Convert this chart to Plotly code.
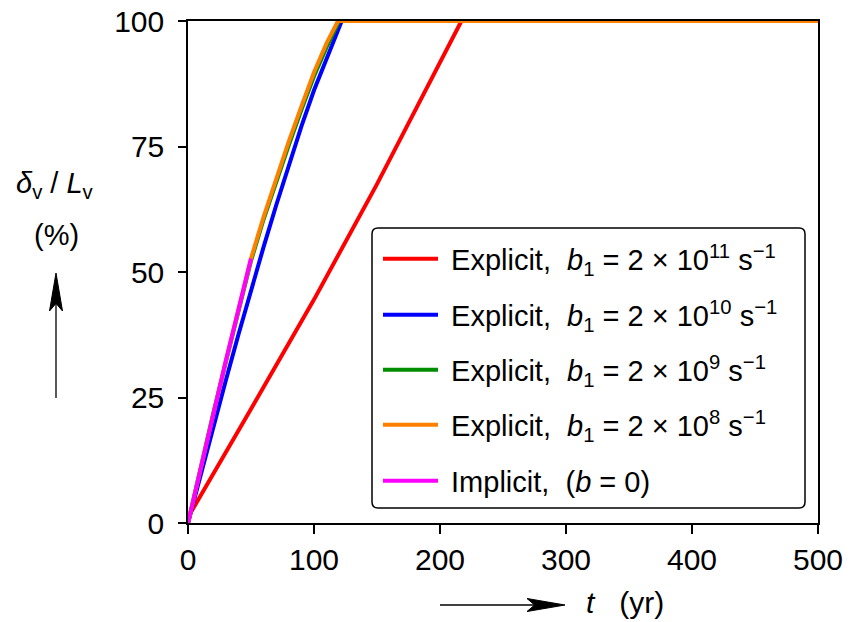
import math
import plotly.graph_objects as go

# ---- Data (t in yr, delta_v/L_v in %) ----
t_red = [0, 2, 50, 100, 150, 200, 217, 300, 400, 500]
y_red = [0, 2, 22.7, 44.5, 67.5, 91.5, 100, 100, 100, 100]

t_blue = [0, 10, 20, 30, 40, 50, 60, 70, 80, 90, 100, 110, 122, 300, 500]
y_blue = [0, 9.6, 19.1, 28.4, 37.5, 46.4, 55.0, 63.3, 71.2, 79.0, 86.2, 92.6, 100, 100, 100]

t_green = [0, 10, 20, 30, 40, 50, 60, 70, 80, 90, 100, 110, 116, 120, 300, 500]
y_green = [0, 11, 21.8, 32, 42.2, 52.2, 60.5, 68, 75.3, 82.3, 89, 94.8, 98, 100, 100, 100]

t_orange = [0, 10, 20, 30, 40, 50, 60, 70, 80, 90, 100, 110, 115, 119, 300, 500]
y_orange = [0, 11, 22, 32.3, 42.5, 52.7, 61, 68.6, 76, 83, 89.8, 95.6, 98.3, 100, 100, 100]

t_magenta = [0, 10, 20, 30, 40, 50]
y_magenta = [0, 11, 22, 32.3, 42.5, 52.7]

x_ticks = [0, 100, 200, 300, 400, 500]
y_ticks = [0, 25, 50, 75, 100]

names = [
    " Explicit,  <i>b</i><sub>1</sub> = 2 × 10<sup>11</sup> s<sup>−1</sup>",
    " Explicit,  <i>b</i><sub>1</sub> = 2 × 10<sup>10</sup> s<sup>−1</sup>",
    " Explicit,  <i>b</i><sub>1</sub> = 2 × 10<sup>9</sup> s<sup>−1</sup>",
    " Explicit,  <i>b</i><sub>1</sub> = 2 × 10<sup>8</sup> s<sup>−1</sup>",
    " Implicit,  (<i>b</i> = 0)",
]
colors = ["#ff0000", "#0000ff", "#008c00", "#ff8000", "#ff00ff"]
series = [(t_red, y_red), (t_blue, y_blue), (t_green, y_green),
          (t_orange, y_orange), (t_magenta, y_magenta)]

W, H = 859, 622
L, R, T, B = 188, 818, 21, 523  # plot area in pixels


def px(x):
    return (x - L) / (R - L)


def py(y):
    return (B - y) / (B - T)


FONT = "Liberation Sans, Arial, sans-serif"
fig = go.Figure()
legend_keys = ["legend", "legend2", "legend3", "legend4", "legend5"]
row_y = [259, 315, 370, 425, 481]
for (tx, ty), nm, c, lk in zip(series, names, colors, legend_keys):
    fig.add_trace(go.Scatter(x=tx, y=ty, mode="lines", name=nm, legend=lk,
                             line=dict(color=c, width=4)))

legend_layout = {}
for lk, ry in zip(legend_keys, row_y):
    legend_layout[lk] = dict(x=px(378), y=py(ry), xanchor="left", yanchor="middle",
                             bgcolor="rgba(0,0,0,0)", borderwidth=0,
                             font=dict(size=29, family=FONT), itemwidth=55)

fig.update_layout(
    width=W, height=H,
    margin=dict(l=L, r=W - R, t=T, b=H - B, autoexpand=False),
    paper_bgcolor="white", plot_bgcolor="white",
    font=dict(family=FONT, size=30, color="black"),
    showlegend=True,
    xaxis=dict(range=[0, 500], tickvals=x_ticks,
               showgrid=False, zeroline=False, showline=True, linecolor="black",
               linewidth=1.5, mirror=True, ticks="outside", ticklen=9,
               tickwidth=1.5, tickcolor="black", tickfont=dict(size=30)),
    yaxis=dict(range=[0, 100], tickvals=y_ticks,
               showgrid=False, zeroline=False, showline=True, linecolor="black",
               linewidth=1.5, mirror=True, ticks="outside", ticklen=8,
               tickwidth=1.5, tickcolor="black", tickfont=dict(size=30),
               ticklabelstandoff=8),
    **legend_layout,
)

# rounded legend box
x0, x1, y0, y1, r = px(372), px(805), py(228), py(508), 6
rx, ry_ = r / (R - L), r / (B - T)
path = (f"M {x0+rx},{y0} L {x1-rx},{y0} Q {x1},{y0} {x1},{y0-ry_} "
        f"L {x1},{y1+ry_} Q {x1},{y1} {x1-rx},{y1} L {x0+rx},{y1} "
        f"Q {x0},{y1} {x0},{y1+ry_} L {x0},{y0-ry_} Q {x0},{y0} {x0+rx},{y0} Z")
fig.add_shape(type="path", path=path, xref="paper", yref="paper",
              fillcolor="white", line=dict(color="black", width=1.5), layer="above")


def arrow(xt, yt, xs, ys, hl=38, hw=6.5):
    # line from tail (xs, ys) to tip (xt, yt) in pixels with a dart head
    dx, dy = xt - xs, yt - ys
    n = math.hypot(dx, dy)
    ux, uy = dx / n, dy / n
    vx, vy = -uy, ux
    bx, by = xt - ux * hl, yt - uy * hl
    nx, ny = xt - ux * hl * 0.8, yt - uy * hl * 0.8
    fig.add_shape(type="line", xref="paper", yref="paper",
                  x0=px(xs), y0=py(ys), x1=px(nx), y1=py(ny),
                  line=dict(color="black", width=1.3))
    p = (f"M {px(xt)},{py(yt)} L {px(bx + vx*hw)},{py(by + vy*hw)} "
         f"L {px(nx)},{py(ny)} L {px(bx - vx*hw)},{py(by - vy*hw)} Z")
    fig.add_shape(type="path", path=p, xref="paper", yref="paper",
                  fillcolor="black", line=dict(color="black", width=1))


# y-axis label and arrow
fig.add_annotation(xref="paper", yref="paper", x=px(55), y=py(185),
                   text="<i>δ</i><sub>v</sub> / <i>L</i><sub>v</sub>",
                   showarrow=False, font=dict(size=29, family=FONT),
                   xanchor="center", yanchor="middle")
fig.add_annotation(xref="paper", yref="paper", x=px(56), y=py(235),
                   text="(%)", showarrow=False, font=dict(size=29, family=FONT),
                   xanchor="center", yanchor="middle")
arrow(56, 273, 56, 398)

# x-axis label and arrow
arrow(565, 605, 440, 605)
fig.add_annotation(xref="paper", yref="paper", x=px(584), y=py(602),
                   text="<i>t</i>   (yr)", showarrow=False,
                   font=dict(size=30, family=FONT), xanchor="left", yanchor="middle")

fig.write_html("out.html", post_script="document.body.style.margin='0';",
               config={"displayModeBar": False})
